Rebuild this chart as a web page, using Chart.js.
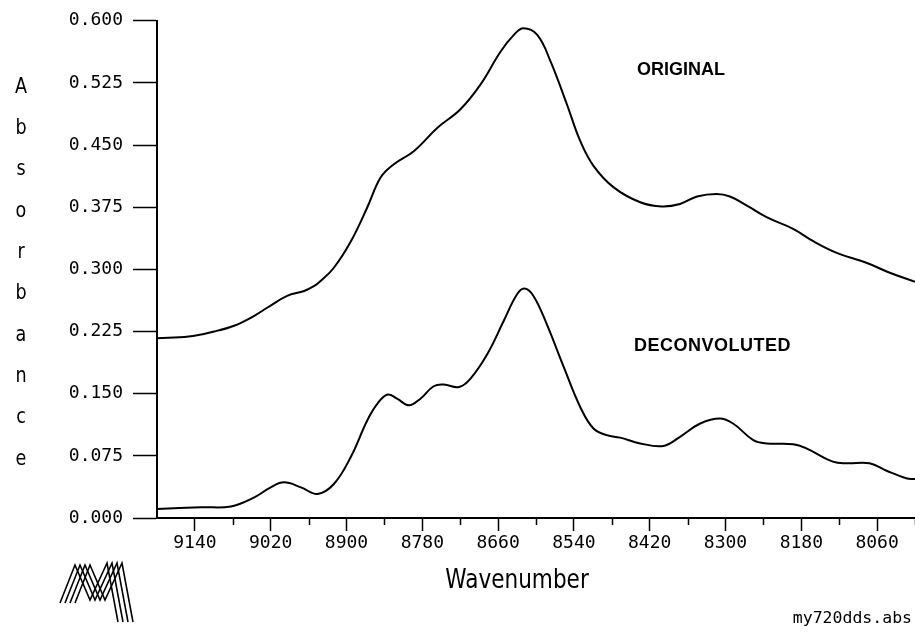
<!DOCTYPE html>
<html>
<head>
<meta charset="utf-8">
<title>Absorbance spectrum</title>
<script src="https://cdn.jsdelivr.net/npm/chart.js@4"></script>
<style>
  html, body { margin: 0; padding: 0; background: #fff; }
  #spectrum { display: block; }
</style>
</head>
<body>
<canvas id="spectrum" width="915" height="632"></canvas>
<script>
// Original spectrum: wavenumber (cm-1) and absorbance
const originalWave = [9200, 9150, 9110, 9078, 9046, 9025, 8994, 8967, 8951, 8941,
    8920, 8893, 8867, 8846, 8825, 8793, 8756, 8720, 8688, 8656,
    8635, 8620, 8598, 8577, 8551, 8530, 8509, 8477, 8435, 8401,
    8372, 8345, 8314, 8293, 8266, 8235, 8193, 8161, 8124, 8077,
    8040, 8000];
const originalAbs = [0.217, 0.219, 0.225, 0.232, 0.244, 0.254, 0.268, 0.274, 0.280, 0.286,
    0.302, 0.334, 0.375, 0.411, 0.427, 0.443, 0.471, 0.493, 0.523, 0.563,
    0.583, 0.591, 0.583, 0.551, 0.499, 0.455, 0.425, 0.399, 0.381, 0.376,
    0.379, 0.388, 0.391, 0.388, 0.377, 0.363, 0.349, 0.334, 0.320, 0.308,
    0.296, 0.285];

// Deconvoluted spectrum
const deconvWave = [9200, 9130, 9083, 9046, 9020, 8999, 8972, 8946, 8920, 8893,
    8867, 8851, 8835, 8820, 8801, 8783, 8762, 8746, 8722, 8704,
    8677, 8651, 8630, 8618, 8604, 8583, 8556, 8530, 8509, 8488,
    8467, 8435, 8398, 8372, 8340, 8309, 8288, 8256, 8235, 8193,
    8172, 8130, 8108, 8072, 8045, 8014, 8000];
const deconvAbs = [0.011, 0.013, 0.014, 0.025, 0.037, 0.043, 0.037, 0.029, 0.041, 0.074,
    0.118, 0.138, 0.149, 0.144, 0.136, 0.144, 0.159, 0.161, 0.158, 0.168,
    0.198, 0.238, 0.270, 0.277, 0.268, 0.234, 0.182, 0.134, 0.108, 0.100,
    0.097, 0.090, 0.087, 0.098, 0.114, 0.120, 0.114, 0.094, 0.090, 0.089,
    0.084, 0.068, 0.066, 0.066, 0.057, 0.048, 0.047];

// Axis ticks
const xMajorTicks = [9140, 9020, 8900, 8780, 8660, 8540, 8420, 8300, 8180, 8060];
const xMinorTicks = [9080, 8960, 8840, 8720, 8600, 8480, 8360, 8240, 8120, 8000];
const yTicks = [0, 0.075, 0.15, 0.225, 0.3, 0.375, 0.45, 0.525, 0.6];

// Curve names, anchored in data units (left edge, baseline)
const curveLabels = [
    { text: 'ORIGINAL', x: 8440, y: 0.534 },
    { text: 'DECONVOLUTED', x: 8445, y: 0.202 }
];

const yTitle = 'Absorbance';
const xTitle = 'Wavenumber';
const fileName = 'my720dds.abs';

function toPoints(xs, ys) {
    return xs.map((x, i) => ({ x: x, y: ys[i] }));
}

// Draws minor ticks, stacked y title, x title, curve names, file name and logo
const plotDecorations = {
    id: 'plotDecorations',
    afterDraw(chart) {
        const ctx = chart.ctx;
        const area = chart.chartArea;
        const xs = chart.scales.x;
        const ys = chart.scales.y;
        ctx.save();
        ctx.fillStyle = '#000';
        ctx.strokeStyle = '#000';

        // minor x ticks
        ctx.lineWidth = 1.5;
        ctx.beginPath();
        xMinorTicks.forEach(v => {
            const px = Math.round(xs.getPixelForValue(v)) + 0.5;
            ctx.moveTo(px, area.bottom);
            ctx.lineTo(px, area.bottom + 7);
        });
        ctx.stroke();

        // curve names
        ctx.font = 'bold 18px "Liberation Sans", Arial, sans-serif';
        ctx.textAlign = 'left';
        ctx.textBaseline = 'alphabetic';
        curveLabels.forEach(l => {
            ctx.letterSpacing = l.text.length > 8 ? '0.5px' : '0px';
            ctx.fillText(l.text, xs.getPixelForValue(l.x), ys.getPixelForValue(l.y));
        });
        ctx.letterSpacing = '0px';

        // y title, one upright letter per line
        ctx.font = '22px "DejaVu Sans", sans-serif';
        ctx.textAlign = 'center';
        yTitle.split('').forEach((ch, i) => {
            ctx.save();
            ctx.translate(21, area.top + 72 + i * 41.3);
            ctx.scale(0.8, 1);
            ctx.fillText(ch, 0, 0);
            ctx.restore();
        });

        // x title
        ctx.save();
        ctx.translate(517, 588);
        ctx.scale(0.8, 1);
        ctx.font = '27px "DejaVu Sans", sans-serif';
        ctx.fillText(xTitle, 0, 0);
        ctx.restore();

        // file name
        ctx.font = '16.5px "DejaVu Sans Mono", monospace';
        ctx.textAlign = 'right';
        ctx.fillText(fileName, 912, 623);

        // hatched M logo
        ctx.lineWidth = 1.6;
        for (let k = 0; k < 4; k++) {
            const dx = k * 5;
            ctx.beginPath();
            ctx.moveTo(60 + dx, 603);
            ctx.lineTo(75 + dx, 565);
            ctx.lineTo(90 + dx, 600);
            ctx.lineTo(107 + dx, 563);
            ctx.lineTo(118 + dx, 622);
            ctx.stroke();
        }
        ctx.restore();
    }
};

const tickFont = { family: '"DejaVu Sans Mono", monospace', size: 18 };

new Chart(document.getElementById('spectrum'), {
    type: 'line',
    data: {
        datasets: [{
            label: 'Original',
            data: toPoints(originalWave, originalAbs),
            borderColor: '#000',
            borderWidth: 2,
            pointRadius: 0,
            fill: false,
            tension: 0.4
        }, {
            label: 'Deconvoluted',
            data: toPoints(deconvWave, deconvAbs),
            borderColor: '#000',
            borderWidth: 2,
            pointRadius: 0,
            fill: false,
            tension: 0.4
        }]
    },
    options: {
        responsive: false,
        animation: false,
        events: [],
        layout: { padding: { top: 20, right: 0, bottom: 0, left: 0 } },
        plugins: {
            legend: { display: false },
            tooltip: { enabled: false }
        },
        scales: {
            x: {
                type: 'linear',
                reverse: true,
                min: 8000,
                max: 9200,
                afterBuildTicks: scale => {
                    scale.ticks = xMajorTicks.map(v => ({ value: v }));
                },
                afterFit: scale => { scale.height = 114; },
                border: { display: true, color: '#000', width: 2 },
                grid: {
                    drawOnChartArea: false,
                    drawTicks: true,
                    tickLength: 13,
                    tickWidth: 1.5,
                    tickColor: '#000'
                },
                ticks: {
                    color: '#000',
                    font: tickFont,
                    padding: 2,
                    maxRotation: 0,
                    autoSkip: false,
                    callback: v => String(v)
                }
            },
            y: {
                min: 0,
                max: 0.6,
                afterBuildTicks: scale => {
                    scale.ticks = yTicks.map(v => ({ value: v }));
                },
                afterFit: scale => { scale.width = 157; },
                border: { display: true, color: '#000', width: 2 },
                grid: {
                    drawOnChartArea: false,
                    drawTicks: true,
                    tickLength: 24,
                    tickWidth: 1.5,
                    tickColor: '#000'
                },
                ticks: {
                    color: '#000',
                    font: tickFont,
                    padding: 10,
                    autoSkip: false,
                    callback: v => v.toFixed(3)
                }
            }
        }
    },
    plugins: [plotDecorations]
});
</script>
</body>
</html>
